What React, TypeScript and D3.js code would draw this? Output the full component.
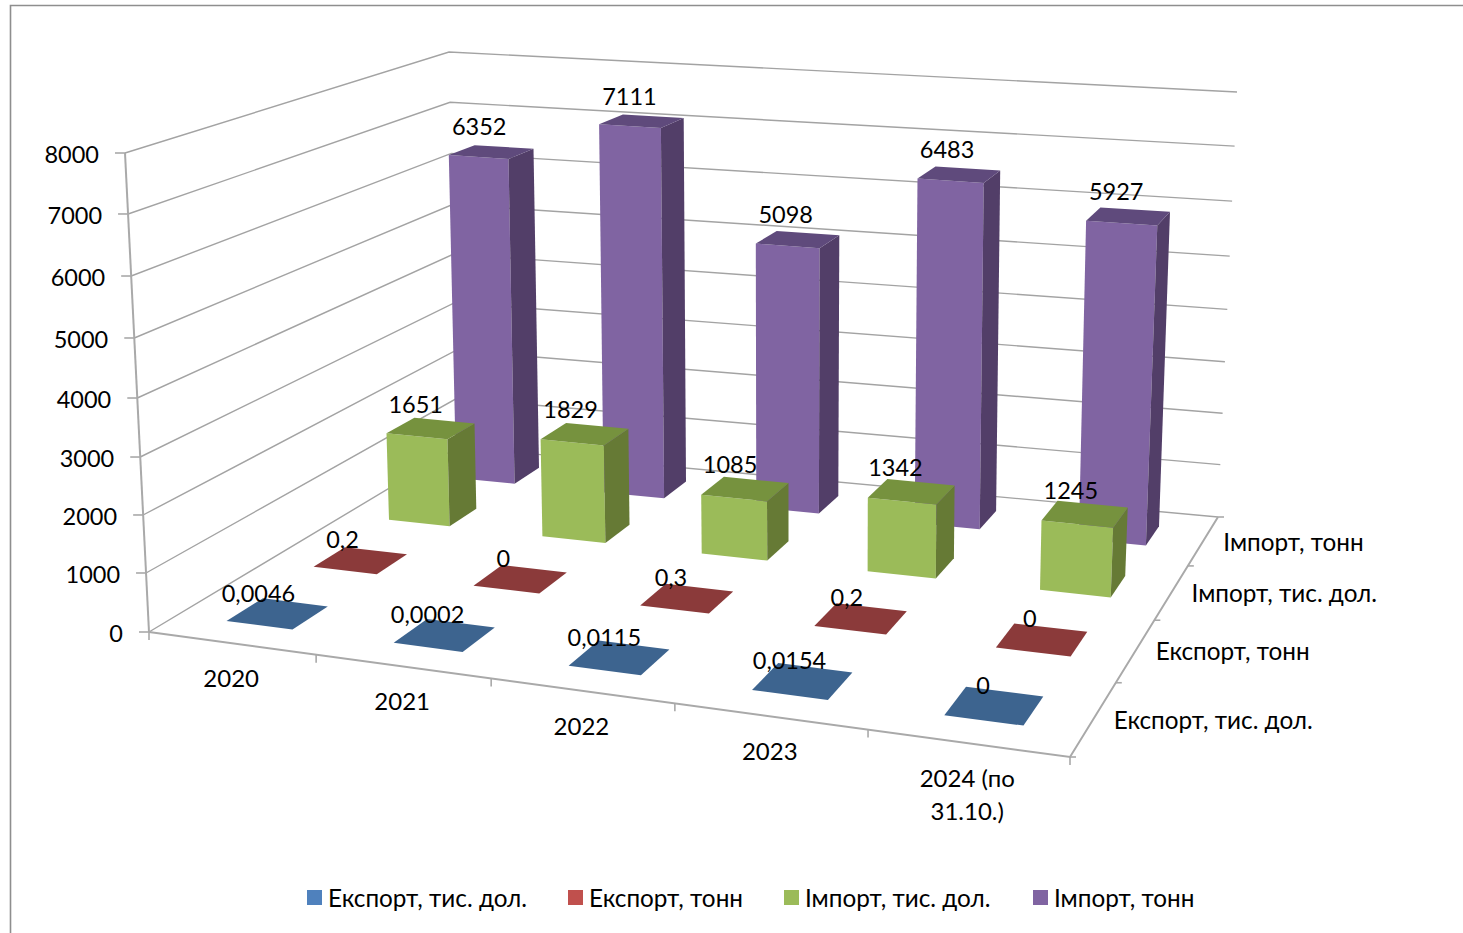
import React from "react";
import * as d3 from "d3";

const categories = [["2020"], ["2021"], ["2022"], ["2023"], ["2024 (по", "31.10.)"]];
const seriesNames = ["Експорт, тис. дол.", "Експорт, тонн", "Імпорт, тис. дол.", "Імпорт, тонн"];
const exportUsd = [0.0046, 0.0002, 0.0115, 0.0154, 0];
const exportTons = [0.2, 0, 0.3, 0.2, 0];
const importUsd = [1651, 1829, 1085, 1342, 1245];
const importTons = [6352, 7111, 5098, 6483, 5927];
const yTicks = [0, 1000, 2000, 3000, 4000, 5000, 6000, 7000, 8000];

const legendColors = ["#4F81BD", "#C0504D", "#9BBB59", "#8064A2"];
const frontColors = ["#3D648F", "#8B3A3A", "#9BBB59", "#8064A2"];
const topColors = ["#3D648F", "#8B3A3A", "#76923E", "#5F4A7C"];
const sideColors = ["#2F4E70", "#6E2E2E", "#667A35", "#523E68"];
const legendX = [307, 568, 784, 1033];
const labelDy = [-21, -21.5, -24.5, -25.5];
const labelDx = [
  [-19, -17, -15, -13, -11],
  [-18, -17, -16, -14, -12],
  [-15, -14, -15, -16, -14],
  [-12, -12, -12, -12, -12],
];

const FONT = "Lato, Carlito, sans-serif";
const FS = 23.5;
const FS_TEXT = 24.3;

type P = [number, number];
// Unit square -> quadrilateral projective map
function homography(q: P[]) {
  const [[x0, y0], [x1, y1], [x2, y2], [x3, y3]] = q; // (0,0),(1,0),(1,1),(0,1)
  const dx1 = x1 - x2, dx2 = x3 - x2, sx = x0 - x1 + x2 - x3;
  const dy1 = y1 - y2, dy2 = y3 - y2, sy = y0 - y1 + y2 - y3;
  const den = dx1 * dy2 - dx2 * dy1;
  const g = (sx * dy2 - dx2 * sy) / den;
  const h = (dx1 * sy - sx * dy1) / den;
  const a = x1 - x0 + g * x1, b = x3 - x0 + h * x3, c = x0;
  const d = y1 - y0 + g * y1, e = y3 - y0 + h * y3, f = y0;
  return (u: number, v: number): P => {
    const w = g * u + h * v + 1;
    return [(a * u + b * v + c) / w, (d * u + e * v + f) / w];
  };
}

const floorMap = homography([[149, 632], [1070, 757], [1218, 517], [458, 447]]);
const topMap = homography([[125, 153], [1092, 250], [1237, 92], [449, 52]]);
const catStops = [0, 1, 2, 3, 4, 5];
const uFloor = d3.scaleLinear().domain(catStops).range([0, 0.2085, 0.4126, 0.6126, 0.8088, 1]);
const uTop = d3.scaleLinear().domain(catStops).range([0, 0.2285, 0.4396, 0.637, 0.82, 1]);
const vScale = d3.scaleLinear().domain([0, 1, 2, 3, 4]).range([0, 0.258, 0.507, 0.752, 1]);
const hScale = d3.scaleLinear().domain(yTicks).range([0, 0.1232, 0.2443, 0.3653, 0.4885, 0.6138, 0.7432, 0.8727, 1]);

function project(cat: number, ser: number, value: number): P {
  const t = hScale(value);
  const a = floorMap(uFloor(cat), vScale(ser));
  const b = topMap(uTop(cat), vScale(ser));
  return [a[0] + (b[0] - a[0]) * t, a[1] + (b[1] - a[1]) * t];
}

const poly = (pts: P[]) => pts.map((p) => p[0].toFixed(1) + "," + p[1].toFixed(1)).join(" ");
const BAR_W = 0.4;
const BAR_D = 0.4;
const allSeries = [exportUsd, exportTons, importUsd, importTons];

const GRID = "#A3A3A3";
const AXIS = "#A9A9A9";

export default function App() {
  const nCat = categories.length;
  const nSer = seriesNames.length;
  const txt = { fontFamily: FONT, fontSize: FS, fill: "#000" } as const;
  const txt2 = { ...txt, fontSize: FS_TEXT };
  return (
    <svg width={1463} height={933} style={{ position: "absolute", left: 0, top: 0, display: "block", background: "#fff" }}>
      <path d="M10.5,933 V5.5 H1463" fill="none" stroke="#8E8E8E" strokeWidth={1.6} />

      {/* walls */}
      {yTicks.map((t) => {
        const a = project(0, 0, t), b = project(0, nSer, t), c = project(nCat, nSer, t);
        return <polyline key={t} points={poly([a, b, c])} fill="none" stroke={GRID} strokeWidth={1.4} />;
      })}

      {/* axes */}
      <polyline points={poly([project(0, 0, 0), project(0, 0, 8000)])} fill="none" stroke={AXIS} strokeWidth={2} />
      <polyline points={poly([project(0, 0, 0), project(nCat, 0, 0), project(nCat, nSer, 0)])} fill="none" stroke={AXIS} strokeWidth={2} />
      {yTicks.map((t) => {
        const p = project(0, 0, t);
        return (
          <g key={t}>
            <line x1={p[0] - 10} y1={p[1]} x2={p[0]} y2={p[1]} stroke={AXIS} strokeWidth={1.6} />
            <text {...txt} x={p[0] - 26} y={p[1] + 0.6} textAnchor="end" dominantBaseline="central">{t}</text>
          </g>
        );
      })}
      {d3.range(nCat + 1).map((i) => {
        const p = project(i, 0, 0);
        return <line key={i} x1={p[0]} y1={p[1]} x2={p[0]} y2={p[1] + 8} stroke={AXIS} strokeWidth={1.6} />;
      })}
      {d3.range(nSer + 1).map((s) => {
        const p = project(nCat, s, 0);
        return <line key={s} x1={p[0]} y1={p[1]} x2={p[0] + 6} y2={p[1]} stroke={AXIS} strokeWidth={1.6} />;
      })}

      {/* bars, back to front */}
      {d3.range(nSer - 1, -1, -1).map((s) =>
        d3.range(nCat).map((i) => {
          const val = allSeries[s][i];
          const u0 = i + 0.5 - BAR_W / 2, u1 = i + 0.5 + BAR_W / 2;
          const v0 = s + 0.5 - BAR_D / 2, v1 = s + 0.5 + BAR_D / 2;
          const flat = val < 1;
          return (
            <g key={s + "-" + i}>
              {!flat && (
                <>
                  <polygon fill={frontColors[s]} points={poly([project(u0, v0, 0), project(u1, v0, 0), project(u1, v0, val), project(u0, v0, val)])} />
                  <polygon fill={sideColors[s]} points={poly([project(u1, v0, 0), project(u1, v1, 0), project(u1, v1, val), project(u1, v0, val)])} />
                </>
              )}
              <polygon fill={topColors[s]} points={poly([project(u0, v0, val), project(u1, v0, val), project(u1, v1, val), project(u0, v1, val)])} />
            </g>
          );
        })
      )}

      {/* data labels */}
      {d3.range(nSer - 1, -1, -1).map((s) =>
        d3.range(nCat).map((i) => {
          const val = allSeries[s][i];
          const p = project(i + 0.5, s + 0.5, val);
          return (
            <text key={s + "-" + i} {...txt} x={p[0] + labelDx[s][i]} y={p[1] + labelDy[s]} textAnchor="middle" dominantBaseline="central">
              {String(val).replace(".", ",")}
            </text>
          );
        })
      )}

      {/* category labels */}
      {categories.map((lines, i) => {
        const p = project(i + 0.5, 0, 0);
        return lines.map((l, k) => (
          <text key={i + "-" + k} {...txt} fontSize={24} x={p[0]} y={p[1] + 34.5 + k * 33} textAnchor="middle" dominantBaseline="central">{l}</text>
        ));
      })}

      {/* series labels */}
      {seriesNames.map((n, s) => {
        const p = project(nCat, s + 0.5, 0);
        return <text key={n} {...txt2} x={p[0] + 20} y={p[1] + 0.5} textAnchor="start" dominantBaseline="central">{n}</text>;
      })}

      {/* legend */}
      {seriesNames.map((n, s) => (
        <g key={n}>
          <rect x={legendX[s]} y={890} width={15} height={15} fill={legendColors[s]} />
          <text {...txt2} x={legendX[s] + 21} y={897.5} dominantBaseline="central">{n}</text>
        </g>
      ))}
    </svg>
  );
}
